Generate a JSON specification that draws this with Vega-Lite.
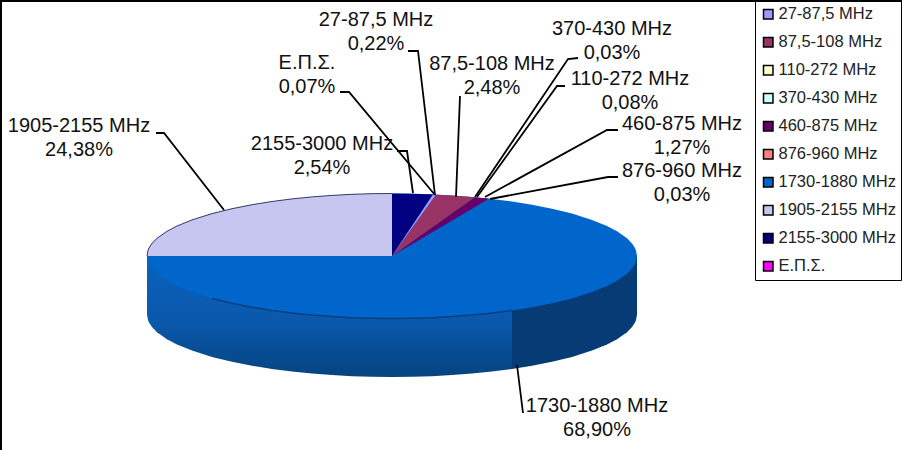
{
  "$schema": "https://vega.github.io/schema/vega-lite/v6.json",
  "description": "Tilted pie: share of spectrum bands",
  "width": 902,
  "height": 450,
  "padding": 0,
  "autosize": "none",
  "background": "white",
  "config": {"view": {"stroke": null}, "font": "Liberation Sans"},
  "datasets": {
    "frame": [
      {"step":1,"x":-392,"y":-194},{"step":2,"x":-392,"y":256},{"step":3,"x":510,"y":256}
    ],
    "sideFront": [
      {"x":-245,"y":0,"y2":-58.5},{"x":-244,"y":0,"y2":-64.1},{"x":-243,"y":0,"y2":-66.5},{"x":-240,"y":0,"y2":-71.1},{"x":-235,"y":0,"y2":-76.2},{"x":-225,"y":0,"y2":-83.2},{"x":-215,"y":0,"y2":-88.5},{"x":-200,"y":0,"y2":-94.6},{"x":-180,"y":0,"y2":-100.9},{"x":-160,"y":0,"y2":-105.8},{"x":-140,"y":0,"y2":-109.8},{"x":-120,"y":0,"y2":-113},{"x":-100,"y":0,"y2":-115.6},{"x":-80,"y":0,"y2":-117.6},{"x":-60,"y":0,"y2":-119.1},{"x":-40,"y":0,"y2":-120.2},{"x":-20,"y":0,"y2":-120.8},{"x":0,"y":0,"y2":-121},{"x":20,"y":0,"y2":-120.8},{"x":40,"y":0,"y2":-120.2},{"x":60,"y":0,"y2":-119.1},{"x":80,"y":0,"y2":-117.6},{"x":100,"y":0,"y2":-115.6},{"x":120,"y":0,"y2":-113}
    ],
    "sideRight": [
      {"x":120,"y":0,"y2":-113},{"x":140,"y":0,"y2":-109.8},{"x":160,"y":0,"y2":-105.8},{"x":180,"y":0,"y2":-100.9},{"x":200,"y":0,"y2":-94.6},{"x":215,"y":0,"y2":-88.5},{"x":225,"y":0,"y2":-83.2},{"x":235,"y":0,"y2":-76.2},{"x":240,"y":0,"y2":-71.1},{"x":243,"y":0,"y2":-66.5},{"x":244,"y":0,"y2":-64.1},{"x":245,"y":0,"y2":-58.5}
    ],
    "slices": [
      {"band":"1730-1880 MHz","x":-245,"y":0,"y2":0},{"band":"1730-1880 MHz","x":-244,"y":5.6,"y2":-5.6},{"band":"1730-1880 MHz","x":-243,"y":8,"y2":-8},{"band":"1730-1880 MHz","x":-240,"y":12.6,"y2":-12.6},{"band":"1730-1880 MHz","x":-235,"y":17.7,"y2":-17.7},{"band":"1730-1880 MHz","x":-225,"y":24.7,"y2":-24.7},{"band":"1730-1880 MHz","x":-215,"y":30,"y2":-30},{"band":"1730-1880 MHz","x":-200,"y":36.1,"y2":-36.1},{"band":"1730-1880 MHz","x":-180,"y":42.4,"y2":-42.4},{"band":"1730-1880 MHz","x":-160,"y":47.3,"y2":-47.3},{"band":"1730-1880 MHz","x":-140,"y":51.3,"y2":-51.3},{"band":"1730-1880 MHz","x":-120,"y":54.5,"y2":-54.5},{"band":"1730-1880 MHz","x":-100,"y":57.1,"y2":-57.1},{"band":"1730-1880 MHz","x":-80,"y":59.1,"y2":-59.1},{"band":"1730-1880 MHz","x":-60,"y":60.6,"y2":-60.6},{"band":"1730-1880 MHz","x":-40,"y":61.7,"y2":-61.7},{"band":"1730-1880 MHz","x":-20,"y":62.3,"y2":-62.3},{"band":"1730-1880 MHz","x":0,"y":62.5,"y2":-62.5},{"band":"1730-1880 MHz","x":20,"y":62.3,"y2":-62.3},{"band":"1730-1880 MHz","x":40,"y":61.7,"y2":-61.7},{"band":"1730-1880 MHz","x":60,"y":60.6,"y2":-60.6},{"band":"1730-1880 MHz","x":80,"y":59.1,"y2":-59.1},{"band":"1730-1880 MHz","x":100,"y":57.1,"y2":-57.1},{"band":"1730-1880 MHz","x":120,"y":54.5,"y2":-54.5},{"band":"1730-1880 MHz","x":140,"y":51.3,"y2":-51.3},{"band":"1730-1880 MHz","x":160,"y":47.3,"y2":-47.3},{"band":"1730-1880 MHz","x":180,"y":42.4,"y2":-42.4},{"band":"1730-1880 MHz","x":200,"y":36.1,"y2":-36.1},{"band":"1730-1880 MHz","x":215,"y":30,"y2":-30},{"band":"1730-1880 MHz","x":225,"y":24.7,"y2":-24.7},{"band":"1730-1880 MHz","x":235,"y":17.7,"y2":-17.7},{"band":"1730-1880 MHz","x":240,"y":12.6,"y2":-12.6},{"band":"1730-1880 MHz","x":243,"y":8,"y2":-8},{"band":"1730-1880 MHz","x":244,"y":5.6,"y2":-5.6},{"band":"1730-1880 MHz","x":245,"y":0,"y2":0},
      {"band":"1905-2155 MHz","x":-245,"y":0,"y2":0},{"band":"1905-2155 MHz","x":-244,"y":5.6,"y2":0},{"band":"1905-2155 MHz","x":-243,"y":8,"y2":0},{"band":"1905-2155 MHz","x":-240,"y":12.6,"y2":0},{"band":"1905-2155 MHz","x":-235,"y":17.7,"y2":0},{"band":"1905-2155 MHz","x":-225,"y":24.7,"y2":0},{"band":"1905-2155 MHz","x":-215,"y":30,"y2":0},{"band":"1905-2155 MHz","x":-200,"y":36.1,"y2":0},{"band":"1905-2155 MHz","x":-180,"y":42.4,"y2":0},{"band":"1905-2155 MHz","x":-160,"y":47.3,"y2":0},{"band":"1905-2155 MHz","x":-140,"y":51.3,"y2":0},{"band":"1905-2155 MHz","x":-120,"y":54.5,"y2":0},{"band":"1905-2155 MHz","x":-100,"y":57.1,"y2":0},{"band":"1905-2155 MHz","x":-80,"y":59.1,"y2":0},{"band":"1905-2155 MHz","x":-60,"y":60.6,"y2":0},{"band":"1905-2155 MHz","x":-40,"y":61.7,"y2":0},{"band":"1905-2155 MHz","x":-20,"y":62.3,"y2":0},{"band":"1905-2155 MHz","x":0,"y":62.5,"y2":0},
      {"band":"2155-3000 MHz","x":0,"y":62.5,"y2":0},{"band":"2155-3000 MHz","x":20,"y":62.3,"y2":30},{"band":"2155-3000 MHz","x":41,"y":61.6,"y2":61.6},
      {"band":"27-87,5 MHz","x":0,"y":0,"y2":0},{"band":"27-87,5 MHz","x":41,"y":61.6,"y2":57.1},{"band":"27-87,5 MHz","x":44,"y":61.4,"y2":61.3},
      {"band":"87,5-108 MHz","x":0,"y":0,"y2":0},{"band":"87,5-108 MHz","x":44,"y":61.3,"y2":31.2},{"band":"87,5-108 MHz","x":60,"y":60.6,"y2":42.5},{"band":"87,5-108 MHz","x":83,"y":58.8,"y2":58.8},
      {"band":"460-875 MHz","x":0,"y":0,"y2":0},{"band":"460-875 MHz","x":83,"y":58.8,"y2":49.1},{"band":"460-875 MHz","x":90,"y":58.1,"y2":53.3},{"band":"460-875 MHz","x":97,"y":57.4,"y2":57.4}
    ],
    "rim": [
      {"x":-245,"y":0},{"x":-244,"y":5.6},{"x":-243,"y":8},{"x":-240,"y":12.6},{"x":-235,"y":17.7},{"x":-225,"y":24.7},{"x":-215,"y":30},{"x":-200,"y":36.1},{"x":-180,"y":42.4},{"x":-160,"y":47.3},{"x":-140,"y":51.3},{"x":-120,"y":54.5},{"x":-100,"y":57.1},{"x":-80,"y":59.1},{"x":-60,"y":60.6},{"x":-40,"y":61.7},{"x":-20,"y":62.3},{"x":0,"y":62.5}
    ],
    "crease": [
      {"x":-180,"y":-42.4},{"x":-160,"y":-47.3},{"x":-140,"y":-51.3},{"x":-120,"y":-54.5},{"x":-100,"y":-57.1},{"x":-80,"y":-59.1},{"x":-60,"y":-60.6},{"x":-40,"y":-61.7},{"x":-20,"y":-62.3},{"x":0,"y":-62.5},{"x":20,"y":-62.3},{"x":40,"y":-61.7},{"x":60,"y":-60.6},{"x":80,"y":-59.1},{"x":100,"y":-57.1},{"x":120,"y":-54.5}
    ],
    "leaders": [
      {"band":"1905-2155 MHz","step":1,"x":-236,"y":123},{"band":"1905-2155 MHz","step":2,"x":-228,"y":123},{"band":"1905-2155 MHz","step":3,"x":-168,"y":46},
      {"band":"27-87,5 MHz","step":1,"x":16,"y":205},{"band":"27-87,5 MHz","step":2,"x":26,"y":205},{"band":"27-87,5 MHz","step":3,"x":43,"y":61},
      {"band":"Ε.Π.Σ.","step":1,"x":-52,"y":164},{"band":"Ε.Π.Σ.","step":2,"x":-43,"y":164},{"band":"Ε.Π.Σ.","step":3,"x":43,"y":61},
      {"band":"2155-3000 MHz","step":1,"x":5,"y":105},{"band":"2155-3000 MHz","step":2,"x":15,"y":105},{"band":"2155-3000 MHz","step":3,"x":21,"y":63},
      {"band":"87,5-108 MHz","step":1,"x":68,"y":160},{"band":"87,5-108 MHz","step":2,"x":64,"y":59},
      {"band":"370-430 MHz","step":1,"x":186,"y":198},{"band":"370-430 MHz","step":2,"x":176,"y":197},{"band":"370-430 MHz","step":3,"x":83,"y":59},
      {"band":"110-272 MHz","step":1,"x":173,"y":170},{"band":"110-272 MHz","step":2,"x":165,"y":170},{"band":"110-272 MHz","step":3,"x":85,"y":59},
      {"band":"460-875 MHz","step":1,"x":226,"y":126},{"band":"460-875 MHz","step":2,"x":215,"y":126},{"band":"460-875 MHz","step":3,"x":93,"y":59},
      {"band":"876-960 MHz","step":1,"x":226,"y":79},{"band":"876-960 MHz","step":2,"x":216,"y":79},{"band":"876-960 MHz","step":3,"x":98,"y":57},
      {"band":"1730-1880 MHz","step":1,"x":125,"y":-109},{"band":"1730-1880 MHz","step":2,"x":131,"y":-157}
    ],
    "labels": [
      {"band":"27-87,5 MHz","share":"0,22%","x":-16,"y":224},
      {"band":"Ε.Π.Σ.","share":"0,07%","x":-85,"y":181},
      {"band":"1905-2155 MHz","share":"24,38%","x":-313,"y":118},
      {"band":"2155-3000 MHz","share":"2,54%","x":-70,"y":100},
      {"band":"87,5-108 MHz","share":"2,48%","x":100,"y":180},
      {"band":"370-430 MHz","share":"0,03%","x":220,"y":215},
      {"band":"110-272 MHz","share":"0,08%","x":238,"y":165},
      {"band":"460-875 MHz","share":"1,27%","x":290,"y":120},
      {"band":"876-960 MHz","share":"0,03%","x":290,"y":73},
      {"band":"1730-1880 MHz","share":"68,90%","x":205,"y":-162}
    ]
  },
  "encoding": {
    "x": {"field": "x", "type": "quantitative", "axis": null, "scale": {"domain": [-392, 510], "nice": false, "zero": false}},
    "y": {"field": "y", "type": "quantitative", "axis": null, "stack": null, "scale": {"domain": [-194, 256], "nice": false, "zero": false}}
  },
  "layer": [
    {
      "data": {"name": "frame"},
      "mark": {"type": "line", "color": "#000", "strokeWidth": 4, "clip": true},
      "encoding": {"order": {"field": "step"}}
    },
    {
      "data": {"name": "sideFront"},
      "mark": {"type": "area", "color": {"gradient": "linear", "x1": 0, "y1": 0, "x2": 0, "y2": 1, "stops": [{"offset": 0, "color": "#0A62BC"}, {"offset": 0.55, "color": "#0A58AC"}, {"offset": 1, "color": "#06437F"}]}},
      "encoding": {"y2": {"field": "y2"}}
    },
    {
      "data": {"name": "sideRight"},
      "mark": {"type": "area", "color": "#073B75"},
      "encoding": {"y2": {"field": "y2"}}
    },
    {
      "data": {"name": "slices"},
      "mark": {"type": "area"},
      "encoding": {
        "y2": {"field": "y2"},
        "color": {
          "field": "band",
          "type": "nominal",
          "scale": {
            "domain": ["27-87,5 MHz", "87,5-108 MHz", "110-272 MHz", "370-430 MHz", "460-875 MHz", "876-960 MHz", "1730-1880 MHz", "1905-2155 MHz", "2155-3000 MHz", "Ε.Π.Σ."],
            "range": ["#9999FF", "#993366", "#FFFFCC", "#CCFFFF", "#660066", "#FF8080", "#0066CC", "#C6C6F0", "#000080", "#FF00FF"]
          },
          "legend": {
            "title": null,
            "orient": "none",
            "legendX": 755,
            "legendY": 1,
            "padding": 5,
            "strokeColor": "#000",
            "symbolType": "square",
            "symbolSize": 90,
            "symbolStrokeColor": "#000",
            "symbolStrokeWidth": 1.5,
            "labelFontSize": 16.5,
            "labelFont": "Liberation Sans",
            "labelColor": "#222",
            "labelLimit": 140,
            "rowPadding": 11,
            "labelOffset": 2
          }
        }
      }
    },
    {
      "data": {"name": "rim"},
      "mark": {"type": "line", "color": "#3A3F66", "strokeWidth": 1}
    },
    {
      "data": {"name": "crease"},
      "mark": {"type": "line", "color": "#0A3F80", "strokeWidth": 1.5}
    },
    {
      "data": {"name": "leaders"},
      "mark": {"type": "line", "color": "#000", "strokeWidth": 1.8},
      "encoding": {"detail": {"field": "band"}, "order": {"field": "step"}}
    },
    {
      "data": {"name": "labels"},
      "mark": {"type": "text", "fontSize": 20, "dy": -12, "color": "#111", "align": "center", "baseline": "middle"},
      "encoding": {"text": {"field": "band"}}
    },
    {
      "data": {"name": "labels"},
      "mark": {"type": "text", "fontSize": 20, "dy": 12, "color": "#111", "align": "center", "baseline": "middle"},
      "encoding": {"text": {"field": "share"}}
    }
  ]
}
